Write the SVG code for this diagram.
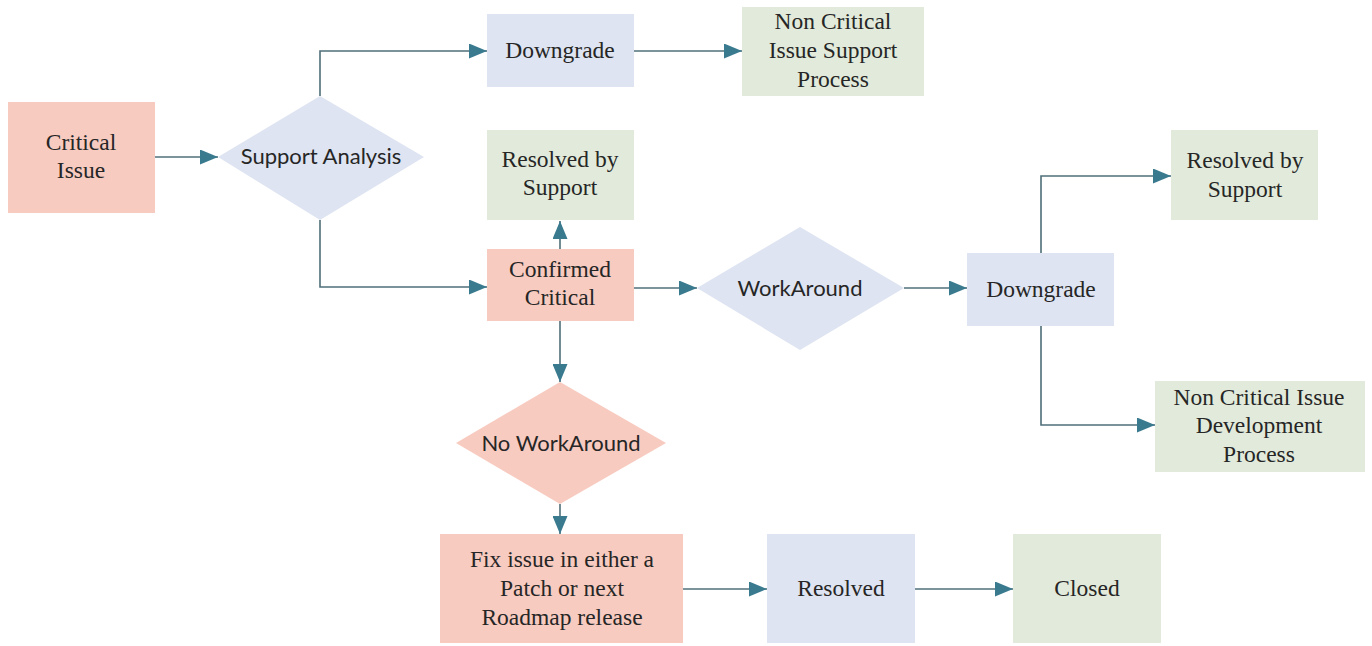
<svg xmlns="http://www.w3.org/2000/svg" width="1372" height="646" viewBox="0 0 1372 646">
  <style>
    .pink { fill: #f8cbc0; }
    .blue { fill: #dee4f1; }
    .green { fill: #e2ebdb; }
    .serif { font-family: "Liberation Serif", "Times New Roman", serif; font-size: 23.5px; fill: #262626; text-anchor: middle; }
    .sans { font-family: Lato, "Open Sans", sans-serif; font-size: 22px; fill: #262626; text-anchor: middle; }
    .conn { fill: none; stroke: #4f6f79; stroke-width: 1.6; }
  </style>
  <defs>
    <marker id="arrow" viewBox="0 0 18 15" refX="18" refY="7.5" markerWidth="18" markerHeight="15" markerUnits="userSpaceOnUse" orient="auto">
      <path d="M0,0 L18,7.5 L0,15 z" fill="#3a7a8f"/>
    </marker>
  </defs>
  <rect width="1372" height="646" fill="#ffffff"/>

  <g id="connectors">
    <path class="conn" d="M155,157 H218" marker-end="url(#arrow)"/>
    <path class="conn" d="M320,96 V51 H487" marker-end="url(#arrow)"/>
    <path class="conn" d="M634,51 H742" marker-end="url(#arrow)"/>
    <path class="conn" d="M320,220 V287 H487" marker-end="url(#arrow)"/>
    <path class="conn" d="M560,249 V221" marker-end="url(#arrow)"/>
    <path class="conn" d="M634,288 H697" marker-end="url(#arrow)"/>
    <path class="conn" d="M904,288 H967" marker-end="url(#arrow)"/>
    <path class="conn" d="M1041,253 V176 H1171" marker-end="url(#arrow)"/>
    <path class="conn" d="M1041,326 V425 H1155" marker-end="url(#arrow)"/>
    <path class="conn" d="M560,321 V382" marker-end="url(#arrow)"/>
    <path class="conn" d="M560,504 V534" marker-end="url(#arrow)"/>
    <path class="conn" d="M683,589 H767" marker-end="url(#arrow)"/>
    <path class="conn" d="M915,589 H1013" marker-end="url(#arrow)"/>
  </g>

  <g id="critical-issue">
    <rect class="pink" x="8" y="102" width="147" height="111"/>
    <text class="serif" x="81" y="150">Critical</text>
    <text class="serif" x="81" y="178">Issue</text>
  </g>

  <g id="support-analysis">
    <polygon class="blue" points="320,96 424,157 320,220 218,157"/>
    <text class="sans" x="321" y="164">Support Analysis</text>
  </g>

  <g id="downgrade-top">
    <rect class="blue" x="487" y="14" width="147" height="73"/>
    <text class="serif" x="560" y="58">Downgrade</text>
  </g>

  <g id="non-critical-support">
    <rect class="green" x="742" y="7" width="182" height="89"/>
    <text class="serif" x="833" y="29">Non Critical</text>
    <text class="serif" x="833" y="58">Issue Support</text>
    <text class="serif" x="833" y="87">Process</text>
  </g>

  <g id="resolved-by-support-mid">
    <rect class="green" x="487" y="130" width="147" height="90"/>
    <text class="serif" x="560" y="167">Resolved by</text>
    <text class="serif" x="560" y="195">Support</text>
  </g>

  <g id="confirmed-critical">
    <rect class="pink" x="487" y="249" width="147" height="72"/>
    <text class="serif" x="560" y="277">Confirmed</text>
    <text class="serif" x="560" y="305">Critical</text>
  </g>

  <g id="workaround">
    <polygon class="blue" points="800,227 904,288 800,350 697,288"/>
    <text class="sans" x="800" y="296">WorkAround</text>
  </g>

  <g id="downgrade-right">
    <rect class="blue" x="967" y="253" width="147" height="73"/>
    <text class="serif" x="1041" y="297">Downgrade</text>
  </g>

  <g id="resolved-by-support-right">
    <rect class="green" x="1171" y="130" width="147" height="90"/>
    <text class="serif" x="1245" y="168">Resolved by</text>
    <text class="serif" x="1245" y="197">Support</text>
  </g>

  <g id="non-critical-development">
    <rect class="green" x="1155" y="381" width="210" height="91"/>
    <text class="serif" x="1259" y="405">Non Critical Issue</text>
    <text class="serif" x="1259" y="433">Development</text>
    <text class="serif" x="1259" y="462">Process</text>
  </g>

  <g id="no-workaround">
    <polygon class="pink" points="560,382 666,443 560,504 456,443"/>
    <text class="sans" x="561" y="451">No WorkAround</text>
  </g>

  <g id="fix-issue">
    <rect class="pink" x="440" y="534" width="243" height="109"/>
    <text class="serif" x="562" y="567">Fix issue in either a</text>
    <text class="serif" x="562" y="596">Patch or next</text>
    <text class="serif" x="562" y="625">Roadmap release</text>
  </g>

  <g id="resolved">
    <rect class="blue" x="767" y="534" width="148" height="109"/>
    <text class="serif" x="841" y="596">Resolved</text>
  </g>

  <g id="closed">
    <rect class="green" x="1013" y="534" width="148" height="109"/>
    <text class="serif" x="1087" y="596">Closed</text>
  </g>
</svg>
